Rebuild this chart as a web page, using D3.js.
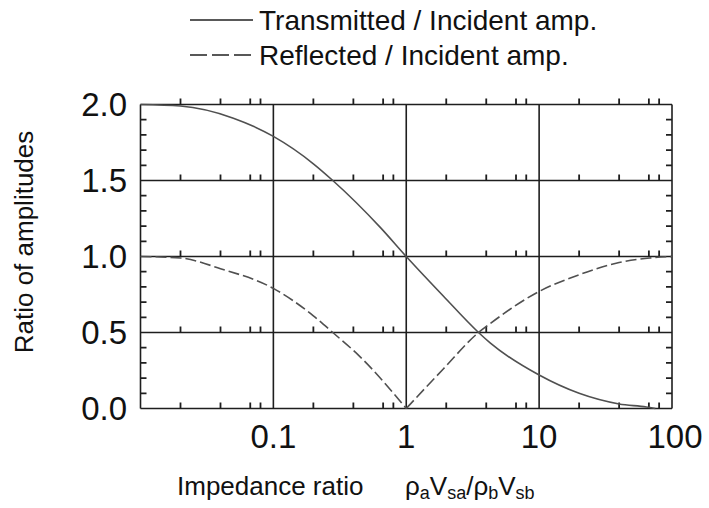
<!DOCTYPE html>
<html>
<head>
<meta charset="utf-8">
<script src="https://cdn.jsdelivr.net/npm/d3@7"></script>
<style>
  html, body { margin: 0; padding: 0; background: #fff; }
  svg { display: block; font-family: "Liberation Sans", Arial, sans-serif; }
</style>
</head>
<body>
<svg id="chart" width="709" height="508"></svg>
<script>
// ---- data ----
const transX = [0.01, 0.02, 0.05, 0.1, 0.2, 0.28, 0.64, 1, 1.9, 3.5, 4.3, 10, 20, 40, 64, 75];
const transY = [2.0, 1.99, 1.91, 1.79, 1.61, 1.5, 1.19, 1.0, 0.74, 0.5, 0.43, 0.22, 0.10, 0.03, 0.01, 0.0];
const reflX  = [0.01, 0.02, 0.04, 0.1, 0.2, 0.28, 0.45, 1, 1.9, 3.5, 4.3, 10, 20, 40, 68, 100];
const reflY  = [1.0, 0.99, 0.92, 0.79, 0.61, 0.5, 0.34, 0.0, 0.26, 0.5, 0.56, 0.77, 0.88, 0.96, 0.99, 1.0];
const xMajorTicks = [0.1, 1, 10, 100];
const xMajorLabels = ["0.1", "1", "10", "100"];
const xMinorMultiples = [2, 4, 6.7, 8];
const yMajorTicks = [0, 0.5, 1.0, 1.5, 2.0];
const yMajorLabels = ["0.0", "0.5", "1.0", "1.5", "2.0"];
const yMinorTicks = [0.1, 0.2, 0.3, 0.4, 0.6, 0.7, 0.8, 0.9, 1.1, 1.2, 1.3, 1.4, 1.6, 1.7, 1.8, 1.9];
const legendLabels = ["Transmitted / Incident amp.", "Reflected / Incident amp."];
const yTitle = "Ratio of amplitudes";
const xTitle = "Impedance ratio";

// ---- layout ----
const L = 140.5, R = 672, T = 104.5, B = 408.5;
const svg = d3.select("#chart");
const x = d3.scaleLog().domain([0.01, 100]).range([L, R]);
const y = d3.scaleLinear().domain([0, 2]).range([B, T]);
const ink = "#1e1e1e";
const gridW = 1.6;

const decades = [0.01, 0.1, 1, 10];
const xMinor = [];
decades.forEach(d => xMinorMultiples.forEach(m => xMinor.push(d * m)));

const g = svg.append("g");

// horizontal lines
g.selectAll("line.hgrid").data(yMajorTicks).join("line").attr("class", "hgrid")
  .attr("x1", L).attr("x2", R).attr("y1", d => y(d)).attr("y2", d => y(d))
  .attr("stroke", ink).attr("stroke-width", gridW);

// upward minor ticks on every horizontal line
let hPath = "";
yMajorTicks.forEach(v => xMinor.forEach(t => {
  hPath += `M${x(t)},${y(v)}V${y(v) - 6}`;
}));
g.append("path").attr("d", hPath).attr("fill", "none").attr("stroke", ink).attr("stroke-width", 1.8);

// vertical lines (frame + grid)
g.selectAll("line.vgrid").data([0.01, 0.1, 1, 10, 100]).join("line").attr("class", "vgrid")
  .attr("x1", d => x(d)).attr("x2", d => x(d)).attr("y1", T).attr("y2", B)
  .attr("stroke", ink).attr("stroke-width", gridW);

// y minor ticks left & right
let yPath = "";
yMinorTicks.forEach(v => {
  yPath += `M${L},${y(v)}H${L + 6}M${R - 6},${y(v)}H${R}`;
});
g.append("path").attr("d", yPath).attr("fill", "none").attr("stroke", ink).attr("stroke-width", 1.8);

// tick labels
g.selectAll("text.ylab").data(yMajorTicks).join("text").attr("class", "ylab")
  .attr("x", 127).attr("y", d => y(d) + 11.5).attr("text-anchor", "end")
  .attr("font-size", 33).attr("fill", "#111").text((d, i) => yMajorLabels[i]);
g.selectAll("text.xlab").data(xMajorTicks).join("text").attr("class", "xlab")
  .attr("x", d => x(d) + (d === 100 ? 3 : 0)).attr("y", 448).attr("text-anchor", "middle")
  .attr("font-size", 33).attr("fill", "#111").text((d, i) => xMajorLabels[i]);

// curves
const line = d3.line().x(d => x(d[0])).y(d => y(d[1])).curve(d3.curveMonotoneX);
const trans = transX.map((v, i) => [v, transY[i]]);
const refl = reflX.map((v, i) => [v, reflY[i]]);
const minIdx = reflY.indexOf(d3.min(reflY));
const reflLeft = refl.slice(0, minIdx + 1);
const reflRight = refl.slice(minIdx);
const curveColor = "#505050";

g.append("path").attr("d", line(trans)).attr("fill", "none")
  .attr("stroke", curveColor).attr("stroke-width", 1.6);
g.append("path").attr("d", line(reflLeft)).attr("fill", "none")
  .attr("stroke", curveColor).attr("stroke-width", 1.6).attr("stroke-dasharray", "11,4");
g.append("path").attr("d", line(reflRight)).attr("fill", "none")
  .attr("stroke", curveColor).attr("stroke-width", 1.6).attr("stroke-dasharray", "11,4");

// legend
const lg = svg.append("g");
const legendRows = [{y: 20, dash: null}, {y: 55, dash: "17,5"}];
legendRows.forEach((r, i) => {
  const ln = lg.append("line").attr("x1", 190).attr("x2", 253).attr("y1", r.y).attr("y2", r.y)
    .attr("stroke", "#222").attr("stroke-width", 1.4);
  if (r.dash) ln.attr("stroke-dasharray", r.dash);
  lg.append("text").attr("x", 259).attr("y", r.y + 10).attr("font-size", 28)
    .attr("fill", "#111").text(legendLabels[i]);
});

// y title
svg.append("text").attr("transform", "translate(33,242) rotate(-90)")
  .attr("text-anchor", "middle").attr("font-size", 26).attr("fill", "#111").text(yTitle);

// x title
svg.append("text").attr("x", 177).attr("y", 495).attr("font-size", 26).attr("fill", "#111").text(xTitle);
const sub = svg.append("text").attr("x", 405).attr("y", 495).attr("font-size", 26).attr("fill", "#111");
const parts = [["ρ", false], ["a", true], ["V", false], ["sa", true], ["/ρ", false], ["b", true], ["V", false], ["sb", true]];
parts.forEach(([t, isSub]) => {
  const ts = sub.append("tspan").attr("font-size", isSub ? 18 : 26).text(t);
  if (isSub) ts.attr("baseline-shift", "-20%");
});
</script>
</body>
</html>
